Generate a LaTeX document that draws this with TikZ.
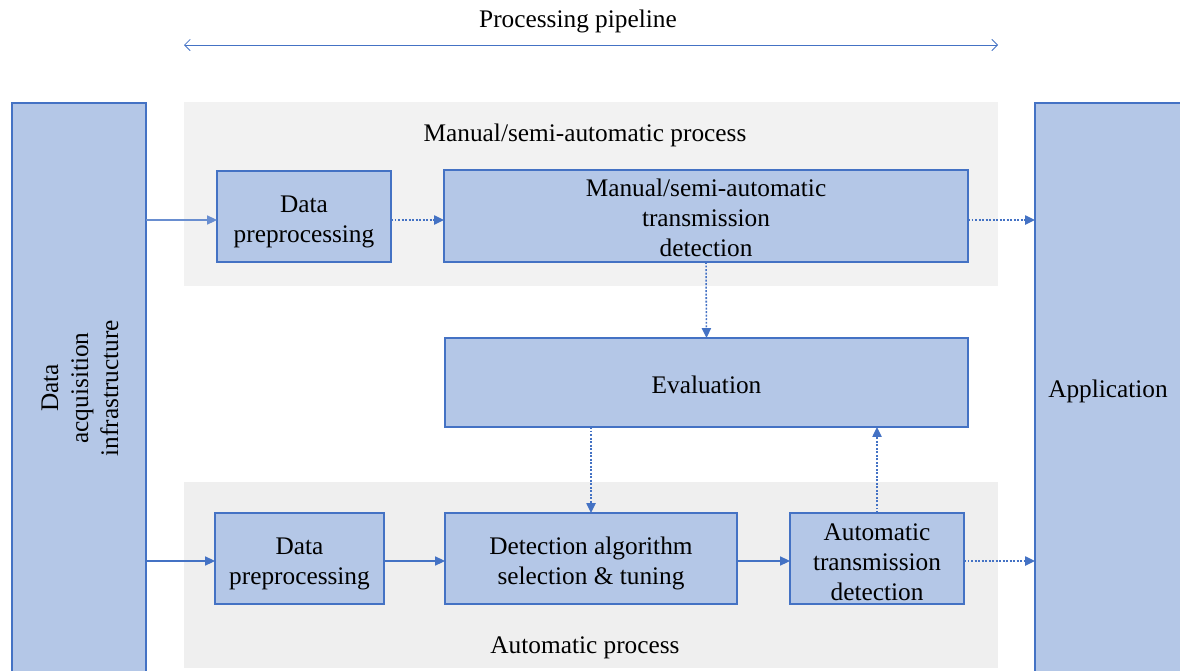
\documentclass[tikz,border=0pt]{standalone}
\usepackage{fontspec}
\setmainfont{Liberation Serif}
\usetikzlibrary{arrows.meta}

\definecolor{boxfill}{RGB}{180,199,231}
\definecolor{boxline}{RGB}{68,114,196}
\definecolor{bandA}{RGB}{242,242,242}
\definecolor{bandB}{RGB}{239,239,239}

\tikzset{
  block/.style={draw=boxline,fill=boxfill,line width=0.8pt,outer sep=0pt,
    inner sep=2pt,align=center,text depth=0pt,font=\fontsize{18}{21.3}\selectfont},
  drop/.style={text height=#1},
  band/.style={fill=#1,draw=none,outer sep=0pt,inner sep=0pt},
  lbl/.style={font=\fontsize{18}{21.3}\selectfont},
  flow/.style={draw=boxline,line width=0.8pt,-{Triangle[length=7pt,width=6.5pt]}},
  dflow/.style={flow,line width=1.1pt,dash pattern=on 1.4pt off 1.1pt},
}

\begin{document}
\begin{tikzpicture}[x=0.025cm,y=-0.025cm]
\useasboundingbox (0,0) rectangle (1180,671);

% process bands
\node[band=bandA,minimum width=814*0.025cm,minimum height=184*0.025cm] (manband) at (591,194) {};
\node[band=bandB,minimum width=814*0.025cm,minimum height=186*0.025cm] (autoband) at (591,575) {};
\node[lbl] (manlbl) at (585,135) {Manual/semi-automatic process};
\node[lbl] (autolbl) at (585,648) {Automatic process};

% pipeline span
\node[lbl] (pipe) at (578,21) {Processing pipeline};
\coordinate (pl) at (184,45);
\coordinate (pr) at (998,45);
\draw[draw=boxline,line width=0.6pt,{Straight Barb[length=4pt,width=8pt]}-{Straight Barb[length=4pt,width=8pt]}] (pl) -- (pr);

% outer blocks
\node[block,minimum width=134*0.025cm,minimum height=572*0.025cm] (acq) at (79,389) {};
\node[lbl,rotate=90,align=center] (acqtxt) at (80,388) {Data\\acquisition\\infrastructure};
\node[block,minimum width=146*0.025cm,minimum height=572*0.025cm] (app) at (1108,389) {Application};

% manual branch
\node[block,drop=37.5pt,minimum width=174*0.025cm,minimum height=91*0.025cm] (dpA) at (304,216.5) {Data\\preprocessing};
\node[block,drop=57.9pt,minimum width=524*0.025cm,minimum height=92*0.025cm] (msd) at (706,216) {Manual/semi-automatic\\transmission\\detection};

% evaluation
\node[block,drop=15.1pt,minimum width=523*0.025cm,minimum height=89*0.025cm] (eval) at (706.5,382.5) {Evaluation};

% automatic branch
\node[block,drop=37.5pt,minimum width=169*0.025cm,minimum height=91*0.025cm] (dpB) at (299.5,558.5) {Data\\preprocessing};
\node[block,drop=36.4pt,minimum width=292*0.025cm,minimum height=91*0.025cm] (das) at (591,558.5) {Detection algorithm\\selection \& tuning};
\node[block,drop=59.2pt,minimum width=174*0.025cm,minimum height=91*0.025cm] (atd) at (877,558.5) {Automatic\\transmission\\detection};

% connections
\draw[flow,draw=boxline!80] (acq.east |- 0,220) -- (dpA.west |- 0,220);
\draw[dflow] (dpA.east |- 0,220) -- (msd.west |- 0,220);
\draw[dflow] (msd.east |- 0,220) -- (app.west |- 0,220);
\draw[dflow] (msd.south) -- (eval.north);
\draw[dflow] (eval.south -| das.north) -- (das.north);
\draw[dflow] (atd.north) -- (eval.south -| atd.north);

\draw[flow] (acq.east |- 0,561) -- (dpB.west |- 0,561);
\draw[flow] (dpB.east |- 0,561) -- (das.west |- 0,561);
\draw[flow] (das.east |- 0,561) -- (atd.west |- 0,561);
\draw[dflow] (atd.east |- 0,561) -- (app.west |- 0,561);

\end{tikzpicture}
\end{document}
